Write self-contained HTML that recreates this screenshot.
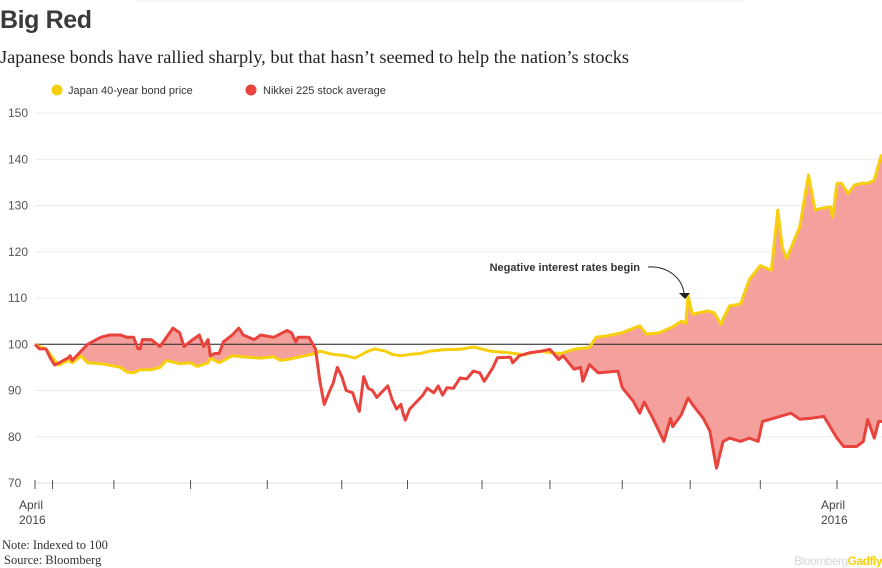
<!DOCTYPE html>
<html><head><meta charset="utf-8"><style>
html,body{margin:0;padding:0;background:#fff;}
svg{display:block;}
</style></head><body>
<svg id="chart" width="882" height="568" viewBox="0 0 882 568" xmlns="http://www.w3.org/2000/svg">
<line x1="135" y1="1" x2="745" y2="1" stroke="#ececec" stroke-width="1"/>
<text x="0" y="28" font-family="Liberation Sans, sans-serif" font-size="25" font-weight="bold" fill="#3a3a3a" textLength="92">Big Red</text>
<text x="0" y="63" font-family="Liberation Serif, serif" font-size="18" fill="#222" textLength="629" lengthAdjust="spacingAndGlyphs">Japanese bonds have rallied sharply, but that hasn’t seemed to help the nation’s stocks</text>
<g>
<circle cx="57" cy="90" r="5.5" fill="#f7d00d"/>
<text x="68" y="94" font-family="Liberation Sans, sans-serif" font-size="11" fill="#333">Japan 40-year bond price</text>
<circle cx="251" cy="90" r="5.5" fill="#e8433c"/>
<text x="263" y="94" font-family="Liberation Sans, sans-serif" font-size="11" fill="#333">Nikkei 225 stock average</text>
</g>
<g id="grid"></g>
<g id="plot"></g>
<g id="xaxis"></g>
<g>
<text x="640" y="271" text-anchor="end" font-family="Liberation Sans, sans-serif" font-size="11" font-weight="bold" fill="#333">Negative interest rates begin</text>
<path d="M648,267 C668,266 682,278 684,293" fill="none" stroke="#222" stroke-width="1"/>
<polygon points="679,293 690,293 685,299" fill="#222"/>
</g>
<text x="2" y="549" font-family="Liberation Serif, serif" font-size="12.5" fill="#333">Note: Indexed to 100</text>
<text x="4" y="564" font-family="Liberation Serif, serif" font-size="12.5" fill="#333">Source: Bloomberg</text>
<text x="882" y="565" text-anchor="end" font-family="Liberation Sans, sans-serif" font-size="12" fill="#d8d8d8" letter-spacing="-0.5">Bloomberg<tspan font-weight="bold" fill="#f7d00d">Gadfly</tspan></text>
</svg>
<script>
const yTicks = [70, 80, 90, 100, 110, 120, 130, 140, 150];
const tickDays = [0, 8, 36, 71, 106, 140, 170, 204, 235, 268, 299, 331, 366];
const tickLabels = [["April","2016"],[],[],[],[],[],[],[],[],[],[],[],["April","2016"]];
const bondDays = [0,2,5,9,11,15,17,21,24,30,34,39,42,45,48,53,57,60,66,71,74,79,80,84,90,97,103,109,112,116,123,128,130,136,142,146,152,155,160,163,167,171,176,180,186,194,200,208,216,223,227,231,235,240,246,253,256,261,268,276,279,285,291,295,297,298,300,307,310,313,314,317,322,326,331,336,337,339,341,343,349,353,356,358,363,364,366,368,371,374,377,380,383,386,387];
const bondValues = [100,99.5,99,96.5,95.5,96.5,96,97.5,96,95.8,95.5,95,94,93.8,94.5,94.5,95,96.5,95.8,96,95.2,96,97,96,97.5,97.2,97,97.3,96.5,96.8,97.5,98,98.5,97.8,97.5,97,98.5,99,98.5,97.8,97.5,97.8,98,98.5,98.8,98.9,99.4,98.5,98.2,97.7,98.2,98.5,98.2,98,98.9,99.3,101.5,101.8,102.5,104,102.2,102.5,103.8,105,104.5,110.5,106.5,107.2,106.8,104.3,105.5,108.3,108.7,114,117,116,120.3,129,121,118.5,125.4,136.6,129,129.3,129.7,127.5,134.8,134.8,132.6,134.4,134.8,134.8,135.5,140.6,141];
const nikkeiDays = [0,2,5,7,9,11,15,16,17,21,24,30,34,39,42,45,47,48,49,53,57,60,63,66,68,72,75,77,79,80,82,84,86,90,93,95,100,103,109,115,117,119,120,122,125,128,130,132,135,136,138,140,142,145,146,148,150,152,154,156,159,161,163,165,167,168,169,171,174,177,179,182,184,186,188,191,194,197,200,203,205,209,211,217,218,221,226,231,235,239,241,246,249,250,253,257,266,268,273,276,278,282,287,290,291,295,298,300,305,308,311,314,317,322,326,330,332,337,345,349,354,360,366,369,375,378,380,383,385,387];
const nikkeiValues = [100,99,99,97,95.5,96,97,97.5,96.5,98.5,100,101.5,102,102,101.5,101.5,99,99,101,101,99.5,101.5,103.5,102.5,99.5,101,102,99.5,101,97.5,98,98,100.5,102,103.5,102,101,102,101.5,103,102.5,100.5,101.5,101.5,101.5,99,92,87,90.5,91.5,95,93,90,89.5,88,85.5,93,90.5,90,88.5,90,91,88,86,87,85,83.6,86,87.5,89,90.5,89.5,91,89,90.6,90.5,92.7,92.5,94.2,93.8,92,95,97.1,97.2,96,97.5,98.2,98.5,98.9,96.7,97.5,94.6,95,92,95.6,93.8,94.2,90.6,87.7,85.1,87.5,84,79,84,82.2,84.8,88.4,87,84,81.2,73.2,79,79.7,79,79.7,79,83.3,84,85.1,83.8,84,84.4,79.7,77.9,77.9,79,83.7,79.7,83.3,83.3];
// periods (in days) during which the gap is shaded
const shadedPeriods = [[0, 129], [238, 387]];

const NS = "http://www.w3.org/2000/svg";
const X0 = 35, PXDAY = (837 - 35) / 366;
function xs(d) { return X0 + d * PXDAY; }
function ys(v) { return 483 - (v - 70) * 4.625; }
function mk(tag, attrs, parent) {
  const e = document.createElementNS(NS, tag);
  for (const k in attrs) e.setAttribute(k, attrs[k]);
  parent.appendChild(e);
  return e;
}
function interp(days, vals, d) {
  if (d <= days[0]) return vals[0];
  for (let i = 1; i < days.length; i++) {
    if (d <= days[i]) {
      const t = (d - days[i - 1]) / (days[i] - days[i - 1]);
      return vals[i - 1] + t * (vals[i] - vals[i - 1]);
    }
  }
  return vals[vals.length - 1];
}
const grid = document.getElementById('grid');
const plot = document.getElementById('plot');
const xaxis = document.getElementById('xaxis');

yTicks.forEach(function (t) {
  if (t !== 70) {
    const gl = mk('line', {x1: 35, x2: 882, y1: ys(t), y2: ys(t), stroke: '#ececec', 'stroke-width': 1}, grid);
    
    
  }
  const lb = mk('text', {x: 8, y: ys(t) + 4, 'font-family': 'Liberation Sans, sans-serif', 'font-size': 12, fill: '#555'}, grid);
  lb.textContent = t;
  
  
});

const axisLine = mk('line', {x1: 35, x2: 882, y1: 483, y2: 483, stroke: '#dcdcdc', 'stroke-width': 1}, xaxis);


tickDays.forEach(function (d, i) {
  const tk = mk('line', {x1: xs(d), x2: xs(d), y1: 480, y2: 489, stroke: '#555', 'stroke-width': 1}, xaxis);
  
  
  tickLabels[i].forEach(function (s, j) {
    const lb = mk('text', {x: xs(d) - 16, y: 509 + j * 15, 'font-family': 'Liberation Sans, sans-serif', 'font-size': 12, fill: '#444'}, xaxis);
    lb.textContent = s;
    
    
  });
});

const allDays = Array.from(new Set(bondDays.concat(nikkeiDays))).sort(function (a, b) { return a - b; });
shadedPeriods.forEach(function (p) {
  const run = [p[0]].concat(allDays.filter(function (d) { return d > p[0] && d < p[1]; })).concat([p[1]]);
  const top = run.map(function (d) { return xs(d).toFixed(1) + ',' + ys(interp(nikkeiDays, nikkeiValues, d)).toFixed(1); });
  const bot = run.map(function (d) { return xs(d).toFixed(1) + ',' + ys(interp(bondDays, bondValues, d)).toFixed(1); }).reverse();
  const a = mk('polygon', {points: top.concat(bot).join(' '), fill: '#f4a19e', stroke: 'none'}, plot);
  
  
});

const base = mk('line', {x1: 35, x2: 882, y1: ys(100), y2: ys(100), stroke: '#222', 'stroke-width': 1}, plot);


function pts(days, vals) { return days.map(function (d, i) { return xs(d).toFixed(1) + ',' + ys(vals[i]).toFixed(1); }); }
const bondLine = mk('polyline', {points: pts(bondDays, bondValues).join(' '), fill: 'none', stroke: '#f7d00d', 'stroke-width': 3, 'stroke-linejoin': 'round'}, plot);


const nikLine = mk('polyline', {points: pts(nikkeiDays, nikkeiValues).join(' '), fill: 'none', stroke: '#e8433c', 'stroke-width': 3, 'stroke-linejoin': 'round'}, plot);


</script>
</body></html>
